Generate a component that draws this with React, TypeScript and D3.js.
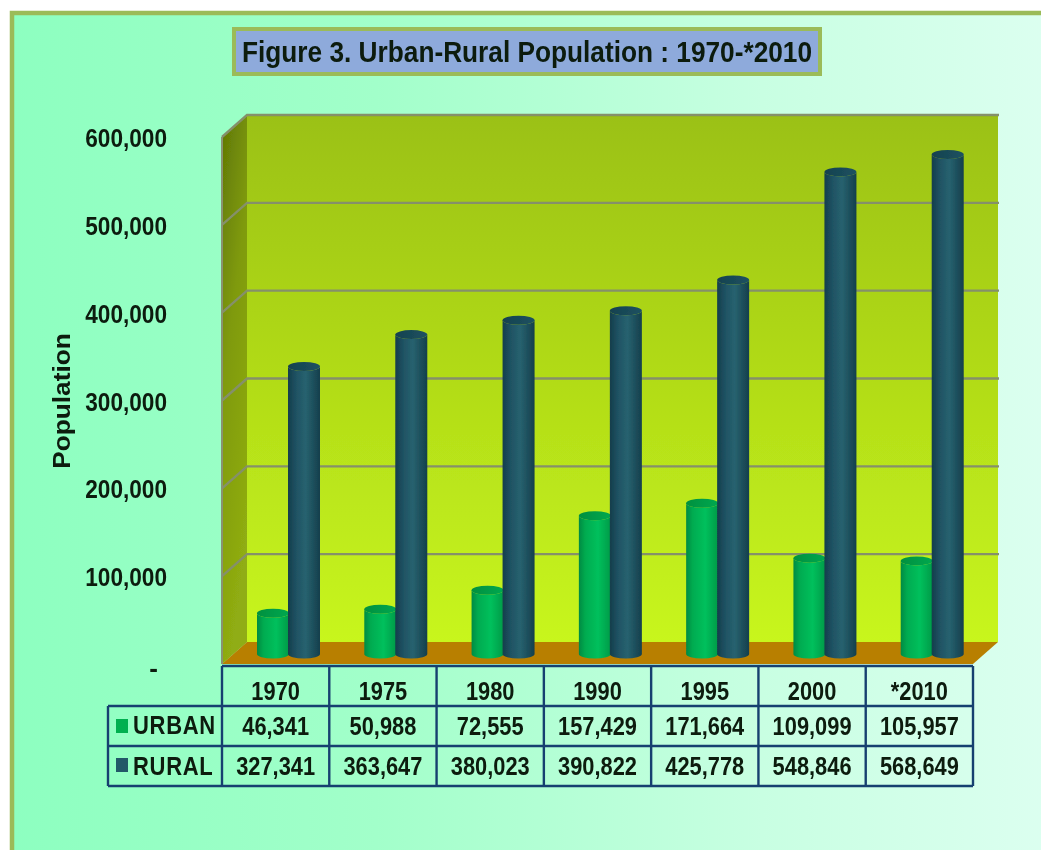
import React from "react";
import * as d3 from "d3";

const categories = ["1970", "1975", "1980", "1990", "1995", "2000", "*2010"];
const urban = [46341, 50988, 72555, 157429, 171664, 109099, 105957];
const rural = [327341, 363647, 380023, 390822, 425778, 548846, 568649];
const yTicks = [0, 100000, 200000, 300000, 400000, 500000, 600000];
const seriesNames = ["URBAN", "RURAL"];
const seriesColors = ["#00b050", "#215968"];

const W = 1041, H = 850;
const frontL = 222, frontR = 973, frontT = 137, frontB = 664;
const dx = 25, dy = 22;
const font = "'Liberation Sans', Arial, sans-serif";
const ink = "#0b1a10";
const line = "#17406f";

const fmt = d3.format(",");
const x = d3.scaleBand<string>().domain(categories).range([frontL, frontR]);
const xSeries = d3.scalePoint<string>().domain(seriesNames).range([51, 82]);
const yFront = d3.scaleLinear().domain([0, 600000]).range([frontB, frontT]);
const yBar = d3.scaleLinear().domain([0, 600000]).range([654, 127]);
const tableRows = [666, 706, 746, 786];

function Cyl({ cx, v, id }: { cx: number; v: number; id: string }) {
  const rx = 16, ry = 4.5;
  const top = yBar(v), base = yBar(0);
  const d = `M${cx - rx},${top}L${cx - rx},${base}A${rx},${ry} 0 0 0 ${cx + rx},${base}L${cx + rx},${top}A${rx},${ry} 0 0 1 ${cx - rx},${top}Z`;
  return (
    <g>
      <path d={d} fill={`url(#${id}Side)`} />
      <ellipse cx={cx} cy={top} rx={rx} ry={ry} fill={`url(#${id}Top)`} />
    </g>
  );
}

function T({ x: tx, y, sx = 0.84, size = 26, anchor = "middle", weight = 700, children }: any) {
  return (
    <text transform={`translate(${tx},${y}) scale(${sx},1)`} textAnchor={anchor} fontSize={size} fontWeight={weight} fontFamily={font} fill={ink}>
      {children}
    </text>
  );
}

export default function App() {
  const colEdges = [...categories.map((c) => x(c)!), frontR];
  return (
    <svg width={W} height={H} viewBox={`0 0 ${W} ${H}`} style={{ position: "fixed", left: 0, top: 0, display: "block", background: "#fff" }}>
      <defs>
        <filter id="soft" filterUnits="userSpaceOnUse" x="0" y="0" width={W} height={H}>
          <feGaussianBlur stdDeviation="0.45" />
        </filter>
        <linearGradient id="bg" x1="0" x2="1" y1="0" y2="0">
          <stop offset="0" stopColor="#8dffc0" />
          <stop offset="0.35" stopColor="#a2ffca" />
          <stop offset="0.72" stopColor="#c8ffe2" />
          <stop offset="1" stopColor="#dcfff0" />
        </linearGradient>
        <linearGradient id="wall" x1="0" x2="0" y1="0" y2="1">
          <stop offset="0" stopColor="#9bc113" />
          <stop offset="1" stopColor="#c8f61d" />
        </linearGradient>
        <linearGradient id="side" x1="0" x2="0.35" y1="0" y2="1">
          <stop offset="0" stopColor="#5f7704" />
          <stop offset="0.45" stopColor="#7f9a0c" />
          <stop offset="1" stopColor="#90ad12" />
        </linearGradient>
        <linearGradient id="urbSide" x1="0" x2="1" y1="0" y2="0">
          <stop offset="0" stopColor="#008a42" />
          <stop offset="0.2" stopColor="#00ab50" />
          <stop offset="0.6" stopColor="#00c05c" />
          <stop offset="1" stopColor="#009a48" />
        </linearGradient>
        <linearGradient id="rurSide" x1="0" x2="1" y1="0" y2="0">
          <stop offset="0" stopColor="#143d4b" />
          <stop offset="0.25" stopColor="#1f5263" />
          <stop offset="0.55" stopColor="#27626f" />
          <stop offset="1" stopColor="#153f4c" />
        </linearGradient>
        <linearGradient id="urbTop" x1="0" x2="1" y1="0" y2="0">
          <stop offset="0" stopColor="#00903f" />
          <stop offset="1" stopColor="#00a84f" />
        </linearGradient>
        <linearGradient id="rurTop" x1="0" x2="1" y1="0" y2="0">
          <stop offset="0" stopColor="#15414f" />
          <stop offset="1" stopColor="#1d5261" />
        </linearGradient>
      </defs>

      <g filter="url(#soft)">
        <rect x={12} y={13} width={W} height={H} fill="url(#bg)" stroke="#9bbb59" strokeWidth={4.5} />

        <rect x={234} y={29} width={586} height={45} fill="#8eaadb" stroke="#9bbb59" strokeWidth={4} />
        <T x={527} y={62} size={30} sx={0.875}>Figure 3. Urban-Rural Population : 1970-*2010</T>

        {/* back wall */}
        <rect x={frontL + dx} y={frontT - dy} width={frontR - frontL} height={frontB - frontT} fill="url(#wall)" />
        {/* side wall */}
        <polygon
          points={`${frontL},${frontT} ${frontL + dx},${frontT - dy} ${frontL + dx},${frontB - dy} ${frontL},${frontB}`}
          fill="url(#side)"
        />
        {/* floor */}
        <polygon
          points={`${frontL},${frontB} ${frontL + dx},${frontB - dy} ${frontR + dx},${frontB - dy} ${frontR},${frontB}`}
          fill="#b87f02"
        />
        {/* gridlines */}
        {yTicks.slice(1).map((t) => (
          <path
            key={t}
            d={`M${frontL},${yFront(t)}L${frontL + dx},${yFront(t) - dy}L${frontR + dx + 1},${yFront(t) - dy}`}
            fill="none"
            stroke="#85906a"
            strokeWidth={2.4}
          />
        ))}
        <path d={`M${frontL},${frontT}V${frontB}`} stroke="#8a9270" strokeWidth={2} fill="none" />

        {/* cylinders */}
        {categories.map((c, i) => (
          <g key={c}>
            <Cyl cx={x(c)! + xSeries("URBAN")!} v={urban[i]} id="urb" />
            <Cyl cx={x(c)! + xSeries("RURAL")!} v={rural[i]} id="rur" />
          </g>
        ))}

        {/* y axis */}
        {yTicks.map((t) =>
          t === 0 ? (
            <T key={t} x={158} y={677} anchor="end" sx={1}>-</T>
          ) : (
            <T key={t} x={167} y={yFront(t) + 10} anchor="end" sx={0.87}>{fmt(t)}</T>
          )
        )}
        <text transform="translate(70,401) rotate(-90) scale(1.14,1)" textAnchor="middle" fontSize={23} fontWeight={700} fontFamily={font} fill={ink}>
          Population
        </text>

        {/* data table */}
        <g stroke={line} strokeWidth={2.4} fill="none">
          <path d={`M${frontL},${tableRows[0]}H${frontR}`} />
          <path d={`M${108},${tableRows[1]}H${frontR}`} />
          <path d={`M${108},${tableRows[2]}H${frontR}`} />
          <path d={`M${108},${tableRows[3]}H${frontR}`} />
          <path d={`M${108},${tableRows[1]}V${tableRows[3]}`} />
          {colEdges.map((e) => (
            <path key={e} d={`M${e},${tableRows[0]}V${tableRows[3]}`} />
          ))}
        </g>
        {categories.map((c, i) => {
          const cx = x(c)! + x.bandwidth() / 2;
          return (
            <g key={c}>
              <T x={cx} y={700}>{c}</T>
              <T x={cx} y={735}>{fmt(urban[i])}</T>
              <T x={cx} y={775}>{fmt(rural[i])}</T>
            </g>
          );
        })}
        {seriesNames.map((s, i) => (
          <g key={s}>
            <rect x={116} y={tableRows[1] + 13 + i * 39} width={12} height={14} fill={seriesColors[i]} />
            <T x={133} y={734 + i * 41} anchor="start" sx={0.88} size={25}>
              <tspan letterSpacing={0.8}>{s}</tspan>
            </T>
          </g>
        ))}
      </g>
    </svg>
  );
}
